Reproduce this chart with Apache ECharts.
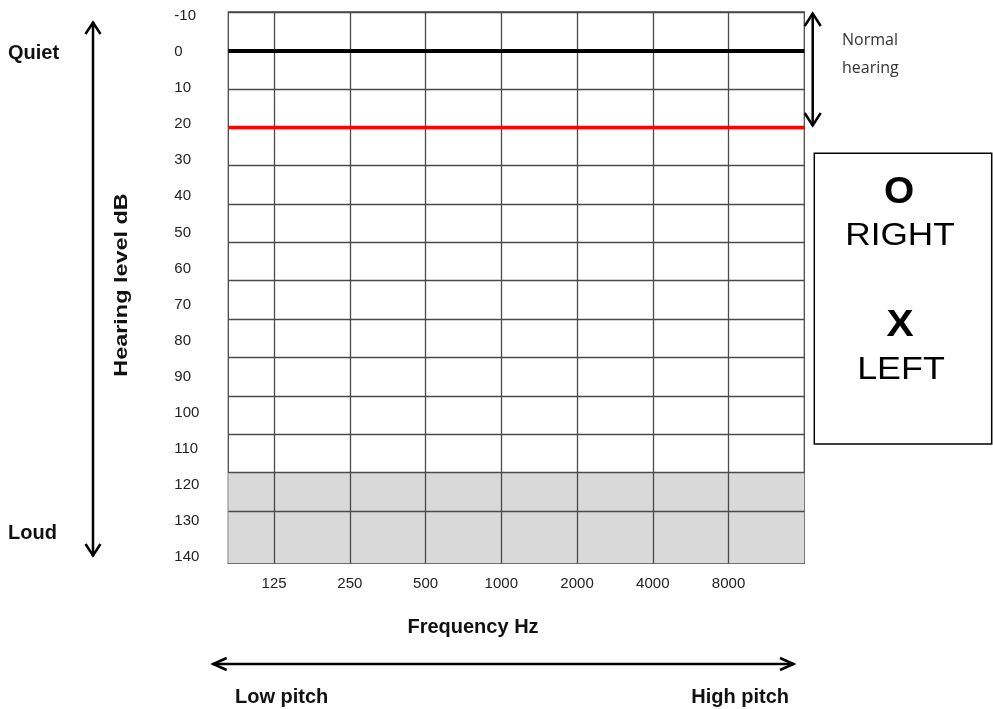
<!DOCTYPE html>
<html>
<head>
<meta charset="utf-8">
<script src="https://cdn.jsdelivr.net/npm/echarts@6/dist/echarts.min.js"></script>
<style>
html,body{margin:0;padding:0;background:#fff;}
#chart{width:993px;height:709px;}
</style>
</head>
<body>
<div id="chart"></div>
<script>
// ---- data ----
const freqLabels = ['125', '250', '500', '1000', '2000', '4000', '8000'];
const freqPositions = [1, 2, 3, 4, 5, 6, 7];
const dbTickLabels = [-10, 0, 10, 20, 30, 40, 50, 60, 70, 80, 90, 100, 110, 120, 130, 140];
const dbGridLines = [-10, 0, 10, 20, 30, 40, 50, 60, 70, 80, 90, 100, 110, 120];
const quietReference = [0];      // black line
const normalLimit = [20];        // red line
const grayZone = [110, 133.6];   // shaded rows (grid scale)
const yRange = [-10, 133.6];
const yLabelRange = [-11.1, 141.75];
const xRange = [0.396, 8];

const chart = echarts.init(document.getElementById('chart'), null, {renderer: 'canvas'});

const gridColor = '#4a4a4a';
const F = 'Arial, "Liberation Sans", Helvetica, sans-serif';

function arrowV(x, y1, y2, hw, hh) {
  return [
    {type: 'line', shape: {x1: x, y1: y1, x2: x, y2: y2}, style: {stroke: '#000', lineWidth: 2.5}},
    {type: 'polyline', shape: {points: [[x - hw, y1 + hh], [x, y1 + 0.5], [x + hw, y1 + hh]]}, style: {stroke: '#000', lineWidth: 2.5, fill: null}},
    {type: 'polyline', shape: {points: [[x - hw, y2 - hh], [x, y2 - 0.5], [x + hw, y2 - hh]]}, style: {stroke: '#000', lineWidth: 2.5, fill: null}}
  ];
}
function arrowH(y, x1, x2, hw, hh) {
  return [
    {type: 'line', shape: {x1: x1, y1: y, x2: x2, y2: y}, style: {stroke: '#000', lineWidth: 2.5}},
    {type: 'polyline', shape: {points: [[x1 + hw, y - hh], [x1 + 0.5, y], [x1 + hw, y + hh]]}, style: {stroke: '#000', lineWidth: 2.5, fill: null}},
    {type: 'polyline', shape: {points: [[x2 - hw, y - hh], [x2 - 0.5, y], [x2 - hw, y + hh]]}, style: {stroke: '#000', lineWidth: 2.5, fill: null}}
  ];
}
function txt(text, x, y, font, opts) {
  opts = opts || {};
  return Object.assign({
    type: 'text', x: x, y: y,
    style: {text: text, font: font, fill: opts.fill || '#111',
      textAlign: opts.align || 'center', align: opts.align || 'center',
      textVerticalAlign: 'middle', verticalAlign: 'middle'}
  }, opts.extra || {});
}

const graphics = [].concat(
  arrowV(93, 22, 556, 7.5, 12),
  arrowV(812.7, 13, 126, 8, 13),
  arrowH(664, 212.7, 794, 14, 6),
  [
    txt('Quiet', 8, 53, 'bold 20px ' + F, {align: 'left'}),
    txt('Loud', 8, 533, 'bold 20px ' + F, {align: 'left'}),
    txt('Hearing level dB', 122, 285, 'bold 18px ' + F, {extra: {rotation: Math.PI / 2, scaleX: 1.3}}),
    txt('Frequency Hz', 473, 627, 'bold 20px ' + F),
    txt('Low pitch', 235, 697, 'bold 20px ' + F, {align: 'left'}),
    txt('High pitch', 789, 697, 'bold 20px ' + F, {align: 'right'}),
    txt('Normal', 842, 40, '16px "Open Sans", Lato, sans-serif', {align: 'left', fill: '#333'}),
    txt('hearing', 842, 68, '16px "Open Sans", Lato, sans-serif', {align: 'left', fill: '#333'}),
    {type: 'rect', shape: {x: 814.3, y: 153.3, width: 177.4, height: 290.7}, style: {fill: null, stroke: '#000', lineWidth: 1.5}},
    txt('O', 899, 193, 'bold 36px ' + F, {fill: '#000', extra: {scaleX: 1.08}}),
    txt('RIGHT', 900, 236, '32px ' + F, {fill: '#000', extra: {scaleX: 1.1}}),
    txt('X', 900, 326, 'bold 37px ' + F, {fill: '#000', extra: {scaleX: 1.1}}),
    txt('LEFT', 901, 370, '32px ' + F, {fill: '#000', extra: {scaleX: 1.12}})
  ]
);

const option = {
  animation: false,
  backgroundColor: '#fff',
  grid: {left: 228.3, top: 12, right: 188.7, bottom: 145.7, show: true, borderColor: gridColor, borderWidth: 1.3, backgroundColor: 'transparent'},
  xAxis: {
    type: 'value', min: xRange[0], max: xRange[1],
    axisLine: {show: false}, axisTick: {show: false}, splitLine: {show: false},
    axisLabel: {
      customValues: freqPositions,
      formatter: v => freqLabels[freqPositions.indexOf(Math.round(v))] || '',
      fontFamily: F, fontSize: 15, color: '#222', margin: 13
    }
  },
  yAxis: [
    {
      type: 'value', inverse: true, min: yRange[0], max: yRange[1],
      axisLine: {show: false}, axisTick: {show: false}, splitLine: {show: false},
      axisLabel: {show: false}
    },
    {
      type: 'value', inverse: true, min: yLabelRange[0], max: yLabelRange[1], position: 'left',
      axisLine: {show: false}, axisTick: {show: false}, splitLine: {show: false},
      axisLabel: {customValues: dbTickLabels, align: 'left', margin: 54, fontFamily: F, fontSize: 15, color: '#222'}
    }
  ],
  series: [
    {
      type: 'line', data: [], z: 1, silent: true,
      markArea: {silent: true, itemStyle: {color: '#d9d9d9'}, data: [[{yAxis: grayZone[0]}, {yAxis: grayZone[1]}]]}
    },
    {
      type: 'line', data: [], z: 2, silent: true,
      markLine: {
        silent: true, symbol: ['none', 'none'], label: {show: false},
        lineStyle: {color: gridColor, width: 1.3, type: 'solid'},
        data: dbGridLines.map(v => ({yAxis: v})).concat(freqPositions.map(v => ({xAxis: v})))
      }
    },
    {
      type: 'line', data: [], z: 3, silent: true,
      markLine: {
        silent: true, symbol: ['none', 'none'], label: {show: false},
        data: quietReference.map(v => ({yAxis: v, lineStyle: {color: '#000', width: 3.8, type: 'solid'}}))
          .concat(normalLimit.map(v => ({yAxis: v, lineStyle: {color: '#ff0000', width: 3.4, type: 'solid'}})))
      }
    }
  ],
  graphic: {elements: graphics}
};
chart.setOption(option);
</script>
</body>
</html>
